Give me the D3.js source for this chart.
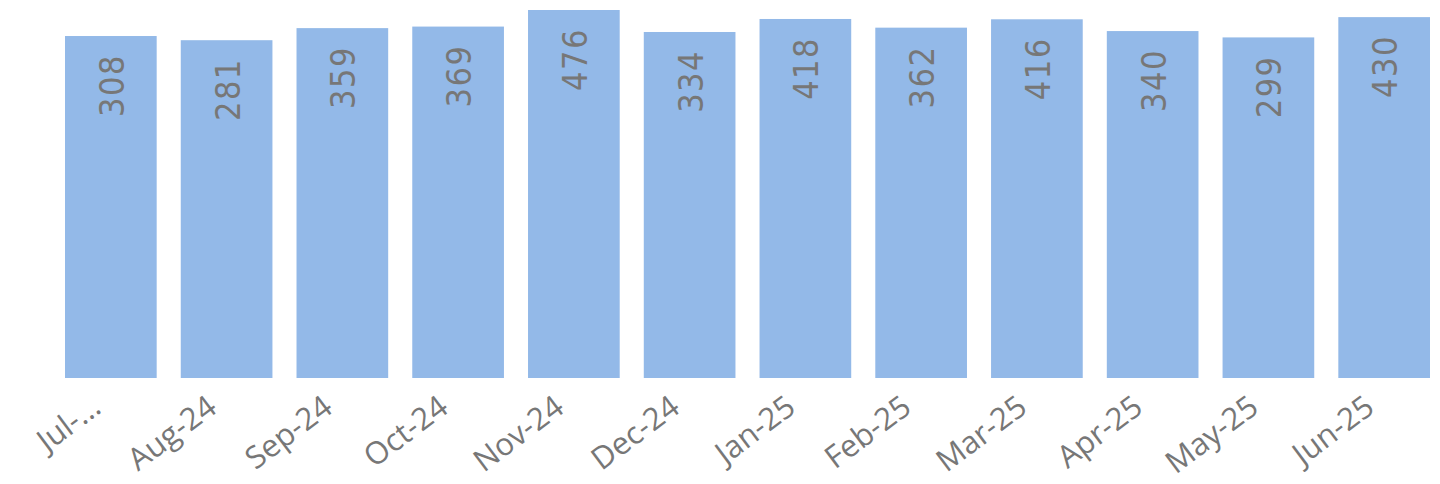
<!DOCTYPE html>
<html><head><meta charset="utf-8">
<script src="https://cdn.jsdelivr.net/npm/d3@7"></script>
<style>body{margin:0;background:#fff;}svg{display:block;}</style>
</head><body><svg id="c" width="1440" height="484"></svg>
<script>
const categories = ["Jul-24","Aug-24","Sep-24","Oct-24","Nov-24","Dec-24","Jan-25","Feb-25","Mar-25","Apr-25","May-25","Jun-25"];
const tickLabels = ["Jul-...","Aug-24","Sep-24","Oct-24","Nov-24","Dec-24","Jan-25","Feb-25","Mar-25","Apr-25","May-25","Jun-25"];
const values = [308,281,359,369,476,334,418,362,416,340,299,430];
const yDomain = [-1900, 476];

const svg = d3.select("#c");
const x = d3.scaleBand().domain(categories).range([65,1430]).paddingInner(0.208).paddingOuter(0);
const y = d3.scaleLinear().domain(yDomain).range([378,10]);

svg.append("g").selectAll("rect").data(values).join("rect")
  .attr("x",(d,i)=>x(categories[i])).attr("width",x.bandwidth())
  .attr("y",d=>y(d)).attr("height",d=>378-y(d)).attr("fill","#93b9e8");

svg.append("g").selectAll("text").data(values).join("text")
  .attr("transform",(d,i)=>`translate(${x(categories[i])+x.bandwidth()/2+1},${y(d)+18}) rotate(-90)`)
  .attr("text-anchor","end").attr("dominant-baseline","central")
  .attr("font-family","'Liberation Sans Narrow','DejaVu Sans Condensed',sans-serif")
  .attr("font-size",34).attr("letter-spacing","1.5px").attr("fill","#777")
  .text(d=>d);

const ax = svg.append("g").attr("transform","translate(0,378)")
  .call(d3.axisBottom(x).tickSize(0).tickFormat((d,i)=>tickLabels[i]));
ax.select(".domain").remove();
ax.selectAll("text")
  .attr("font-family","'Segoe UI','Open Sans',sans-serif").attr("font-size",31).attr("fill","#777")
  .attr("text-anchor","end").attr("dy",null).attr("y",0)
  .attr("transform","translate(-8,33) rotate(-37)");
</script></body></html>
